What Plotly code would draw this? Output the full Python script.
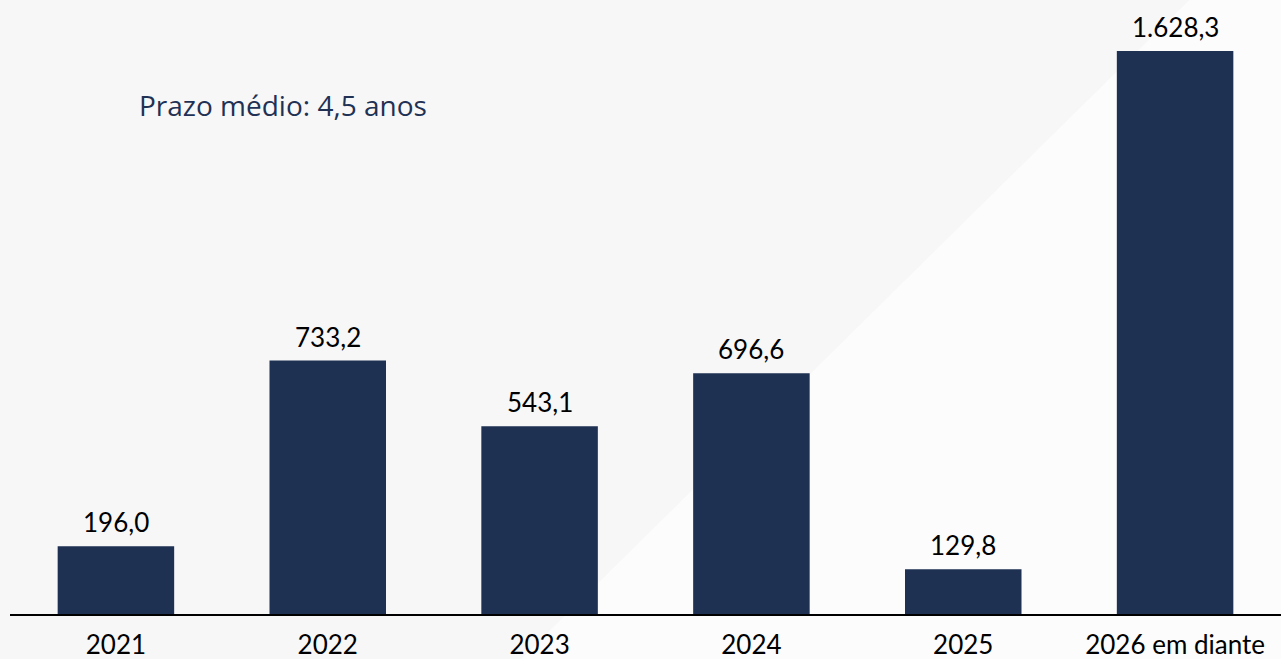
import plotly.graph_objects as go

categories = ["2021", "2022", "2023", "2024", "2025", "2026 em diante"]
values = [196.0, 733.2, 543.1, 696.6, 129.8, 1628.3]
note_text = "Prazo médio: 4,5 anos"

BAR_COLOR = "#1E3152"
FONT = "Lato"
NOTE_FONT = "Open Sans"
FS = 26

PLOT_L, PLOT_W, PLOT_H = 10, 1271, 614


def fmt_br(v):
    s = f"{v:,.1f}"
    return s.replace(",", "X").replace(".", ",").replace("X", ".")


labels = [fmt_br(v) for v in values]

fig = go.Figure()
fig.add_trace(go.Bar(
    x=categories,
    y=values,
    cliponaxis=False,
    marker=dict(color=BAR_COLOR, line=dict(width=0)),
    hoverinfo="skip",
))

# value labels above the bars (x given as category index: numeric-looking
# category names would otherwise be read as positions)
for i, (v, t) in enumerate(zip(values, labels)):
    fig.add_annotation(
        x=i, y=v, text=t, xref="x", yref="y",
        xanchor="center", yanchor="bottom", yshift=6,
        showarrow=False, font=dict(family=FONT, size=FS, color="#000000"),
    )

fig.add_annotation(
    text=note_text, xref="paper", yref="paper",
    x=(137 - PLOT_L) / PLOT_W, y=1 - 105 / PLOT_H, xanchor="left", yanchor="middle",
    showarrow=False, font=dict(family=NOTE_FONT, size=28, color="#1F3154"),
)

# subtle diagonal shading of the background
fig.add_shape(
    type="path", xref="paper", yref="paper", layer="below",
    path="M -0.02 1.1 L 0.977 1.1 L 0.389 -0.1 L -0.02 -0.1 Z",
    fillcolor="#f7f7f7", line=dict(width=0),
)

fig.update_layout(
    width=1281, height=659,
    margin=dict(l=PLOT_L, r=0, t=0, b=45),
    paper_bgcolor="#fcfcfc",
    plot_bgcolor="rgba(0,0,0,0)",
    bargap=0.45,
    showlegend=False,
    font=dict(family=FONT, size=FS, color="#000000"),
    xaxis=dict(
        type="category",
        categoryorder="array", categoryarray=categories,
        range=[-0.5, len(categories) - 0.5], autorange=False,
        automargin=False,
        showline=True, linecolor="#000000", linewidth=2,
        showgrid=False, zeroline=False, ticks="",
        ticklabelstandoff=7,
        tickfont=dict(family=FONT, size=FS, color="#000000"),
        fixedrange=True,
    ),
    yaxis=dict(
        range=[0, 1776], autorange=False, visible=False, showgrid=False,
        zeroline=False, fixedrange=True, automargin=False,
    ),
)

fig.write_html(
    "out.html",
    config={"displayModeBar": False},
    post_script="document.body.style.margin='0';",
)
